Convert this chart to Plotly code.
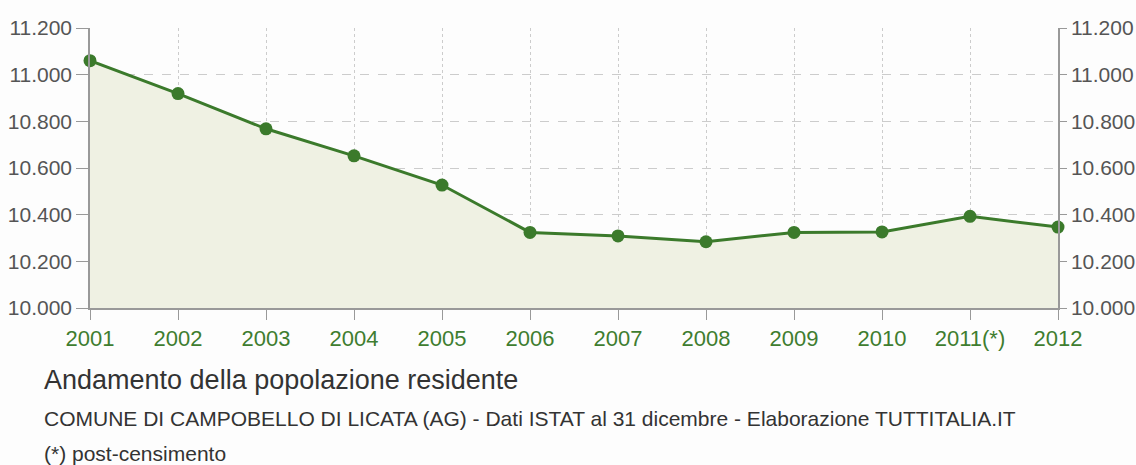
import plotly.graph_objects as go

years = ["2001", "2002", "2003", "2004", "2005", "2006", "2007", "2008", "2009", "2010", "2011(*)", "2012"]
population = [11060, 10919, 10768, 10652, 10527, 10324, 10309, 10284, 10324, 10326, 10393, 10347]
y_ticks = [10000, 10200, 10400, 10600, 10800, 11000, 11200]
y_ticktext = ["10.000", "10.200", "10.400", "10.600", "10.800", "11.000", "11.200"]

title_text = "Andamento della popolazione residente"
subtitle_text = "COMUNE DI CAMPOBELLO DI LICATA (AG) - Dati ISTAT al 31 dicembre - Elaborazione TUTTITALIA.IT"
note_text = "(*) post-censimento"

xs = list(range(len(years)))

LINE = "#3b7a2b"
FILL = "#eff1e3"
FONT = "Liberation Sans, Arial, sans-serif"

fig = go.Figure()
fig.add_trace(go.Scatter(
    x=xs, y=population, mode="lines+markers",
    line=dict(color=LINE, width=3),
    marker=dict(color=LINE, size=13),
    fill="tozeroy", fillcolor=FILL,
    cliponaxis=False, showlegend=False, hoverinfo="skip",
))
fig.add_trace(go.Scatter(
    x=xs, y=population, yaxis="y2", mode="lines",
    line=dict(color="rgba(0,0,0,0)"), showlegend=False, hoverinfo="skip",
))

axis_common = dict(
    range=[10000, 11200], tickvals=y_ticks, ticktext=y_ticktext,
    showline=True, linecolor="#999999", linewidth=1.5,
    ticks="outside", tickcolor="#999999",
    tickfont=dict(family=FONT, size=21, color="#555555"),
    zeroline=False, automargin=False,
)

fig.update_layout(
    width=1136, height=465,
    margin=dict(l=90, r=78, t=28, b=157, autoexpand=False),
    paper_bgcolor="#fdfdfd", plot_bgcolor="#fdfdfd",
    xaxis=dict(
        range=[0, len(years) - 1], tickvals=xs, ticktext=years,
        showline=True, linecolor="#999999", linewidth=1.5,
        ticks="outside", ticklen=10, tickcolor="#999999",
        tickfont=dict(family=FONT, size=22, color="#3f7d30"),
        showgrid=True, gridcolor="#cccccc", griddash="dot", gridwidth=1,
        zeroline=False, automargin=False,
    ),
    yaxis=dict(**axis_common, side="left", ticklen=12, showgrid=True,
               gridcolor="#cccccc", griddash="dash", gridwidth=1),
    yaxis2=dict(**axis_common, side="right", ticklen=7, overlaying="y", showgrid=False),
)

fig.add_annotation(text=title_text, xref="paper", yref="paper",
                   x=-0.0496, y=-0.257, xanchor="left", yanchor="middle",
                   showarrow=False, font=dict(family=FONT, size=27, color="#333333"))
fig.add_annotation(text=subtitle_text, xref="paper", yref="paper",
                   x=-0.0496, y=-0.393, xanchor="left", yanchor="middle",
                   showarrow=False, font=dict(family=FONT, size=21, color="#333333"))
fig.add_annotation(text=note_text, xref="paper", yref="paper",
                   x=-0.0496, y=-0.518, xanchor="left", yanchor="middle",
                   showarrow=False, font=dict(family=FONT, size=21, color="#333333"))

fig.write_html("out.html", config={"displayModeBar": False},
               post_script="document.body.style.margin='0px';")
